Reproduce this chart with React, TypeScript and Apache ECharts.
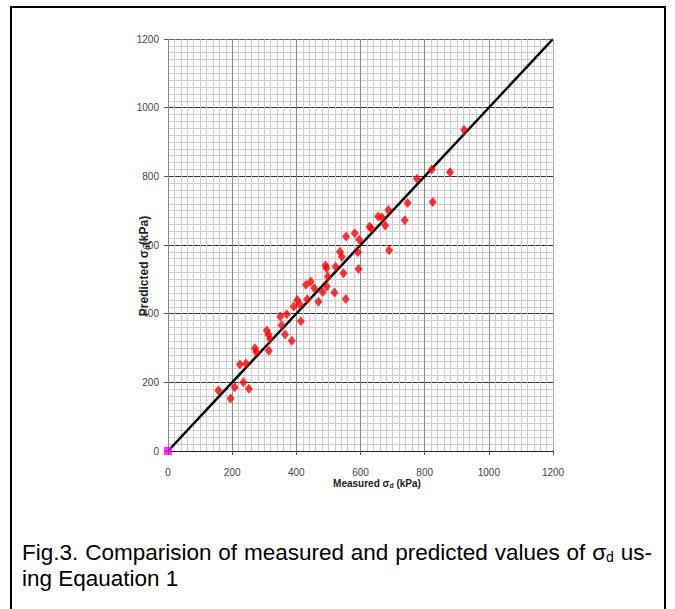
import React, { useEffect, useRef } from "react";
import * as echarts from "echarts";

const measured = [157, 195, 208, 224, 235, 243, 252, 271, 275, 314, 308, 313, 318, 354, 365, 386, 350, 370, 392, 403, 411, 414, 434, 430, 445, 456, 469, 482, 495, 498, 491, 494, 519, 522, 547, 554, 536, 542, 555, 582, 592, 596, 594, 628, 634, 655, 667, 677, 687, 689, 738, 747, 776, 822, 825, 879, 923];
const predicted = [176, 153, 186, 252, 200, 255, 181, 299, 288, 292, 351, 339, 327, 366, 339, 321, 392, 398, 421, 440, 427, 378, 442, 484, 493, 474, 435, 463, 479, 508, 540, 532, 462, 537, 518, 443, 580, 566, 625, 634, 579, 615, 530, 653, 648, 683, 680, 657, 702, 585, 672, 722, 793, 820, 725, 812, 935];
const lineX = [0, 1200];
const lineY = [0, 1200];
const originPoint = [[0, 0]];
const axisMin = 0;
const axisMax = 1200;
const axisInterval = 200;
const captionWords = ["Fig.3.", "Comparision", "of", "measured", "and", "predicted", "values", "of", "σ|d", "us-"];
const captionLine2 = "ing Eqauation 1";

const SANS = "'Liberation Sans', Arial, sans-serif";
const CAP_SIZE = 22.5;
const SUB_SIZE = 14;

export default function App() {
  const ref = useRef<HTMLDivElement>(null);
  useEffect(() => {
    if (!ref.current) return;
    const chart = echarts.init(ref.current, null, { renderer: "svg" });
    const tickFont = {
      color: "#444",
      fontFamily: "'Liberation Sans Narrow', 'Liberation Sans', Arial, sans-serif",
      fontSize: 10,
      formatter: (v: number) => String(v),
    };
    const scatterData = measured.map((x, i) => [x, predicted[i]]);
    const lineData = lineX.map((x, i) => [x, lineY[i]]);

    // justify caption line 1 between left and right edges
    const ctx = document.createElement("canvas").getContext("2d")!;
    const measure = (t: string, size: number) => {
      ctx.font = `${size}px 'Liberation Sans', Arial, sans-serif`;
      return ctx.measureText(t).width;
    };
    const capLeft = 22;
    const capRight = 652;
    const widths = captionWords.map((w) => {
      if (w.includes("|")) {
        const [a, b] = w.split("|");
        return measure(a, CAP_SIZE) + measure(b, SUB_SIZE);
      }
      return measure(w, CAP_SIZE);
    });
    const total = widths.reduce((s, v) => s + v, 0);
    const gap = Math.max(4, (capRight - capLeft - total) / (captionWords.length - 1));
    let cx = capLeft;
    const captionGraphics: any[] = captionWords.map((w, i) => {
      const x = cx;
      cx += widths[i] + gap;
      const isSub = w.includes("|");
      const [a, b] = isSub ? w.split("|") : [w, ""];
      return {
        type: "text",
        x,
        y: 552,
        z: 10,
        style: isSub
          ? {
              text: `{a|${a}}{s|${b}}`,
              align: "left",
              verticalAlign: "middle",
              rich: {
                a: { fontFamily: SANS, fontSize: CAP_SIZE, fill: "#000" },
                s: { fontFamily: SANS, fontSize: SUB_SIZE, fill: "#000", padding: [9, 0, 0, 0] },
              },
            }
          : { text: a, align: "left", verticalAlign: "middle", fontFamily: SANS, fontSize: CAP_SIZE, fill: "#000" },
      };
    });

    chart.setOption({
      animation: false,
      backgroundColor: "#fff",
      grid: { left: 168, top: 39, width: 385, height: 412, show: false },
      xAxis: {
        type: "value",
        min: axisMin,
        max: axisMax,
        interval: axisInterval,
        axisLine: { show: true, onZero: false, lineStyle: { color: "#222", width: 1 } },
        axisTick: { show: true, length: 4, lineStyle: { color: "#555" } },
        axisLabel: { ...tickFont, margin: 16 },
        splitLine: { show: true, lineStyle: { color: "#8a8a8a", width: 1 } },
        minorTick: { show: false, splitNumber: 10 },
        minorSplitLine: { show: true, lineStyle: { color: "#cdcdcd", width: 1 } },
      },
      yAxis: {
        type: "value",
        min: axisMin,
        max: axisMax,
        interval: axisInterval,
        axisLine: { show: true, onZero: false, lineStyle: { color: "#888", width: 1 } },
        axisTick: { show: true, length: 4, lineStyle: { color: "#555" } },
        axisLabel: { ...tickFont, margin: 9 },
        splitLine: { show: true, lineStyle: { color: "#333", width: 1 } },
        minorTick: { show: false, splitNumber: 10 },
        minorSplitLine: { show: true, lineStyle: { color: "#cdcdcd", width: 1 } },
      },
      series: [
        {
          type: "line",
          data: lineData,
          symbol: "none",
          lineStyle: { color: "#000", width: 2.5 },
          z: 3,
        },
        {
          type: "scatter",
          data: scatterData,
          symbol: "diamond",
          symbolSize: [8, 10],
          itemStyle: { color: "#ff0000" },
          z: 4,
        },
        {
          type: "scatter",
          data: originPoint,
          symbol: "rect",
          symbolSize: 8,
          itemStyle: { color: "#ff00ff" },
          z: 5,
        },
      ],
      graphic: [
        {
          type: "rect",
          shape: { x: 553, y: 39, width: 1, height: 412 },
          style: { fill: "#aaa" },
          z: 10,
        },
        {
          type: "rect",
          shape: { x: 168, y: 39, width: 385, height: 0.6 },
          style: { fill: "#999" },
          z: 10,
        },
        {
          type: "rect",
          shape: { x: 11, y: 7, width: 654, height: 640 },
          style: { fill: "none", stroke: "#000", lineWidth: 2 },
          z: 10,
        },
        {
          type: "text",
          x: 144,
          y: 266,
          rotation: Math.PI / 2,
          z: 10,
          style: {
            text: "{a|Predicted σ}{s|d}{a|(kPa)}",
            align: "center",
            verticalAlign: "middle",
            rich: {
              a: { fontFamily: SANS, fontWeight: "bold", fontSize: 12, fill: "#222" },
              s: { fontFamily: SANS, fontWeight: "bold", fontSize: 8, fill: "#222", padding: [6, 0, 0, 0] },
            },
          },
        },
        {
          type: "text",
          x: 377,
          y: 483,
          z: 10,
          style: {
            text: "{a|Measured σ}{s|d}{a| (kPa)}",
            align: "center",
            verticalAlign: "middle",
            rich: {
              a: { fontFamily: SANS, fontWeight: "bold", fontSize: 10, fill: "#222" },
              s: { fontFamily: SANS, fontWeight: "bold", fontSize: 7, fill: "#222", padding: [5, 0, 0, 0] },
            },
          },
        },
        ...captionGraphics,
        {
          type: "text",
          x: capLeft,
          y: 578,
          z: 10,
          style: {
            text: captionLine2,
            align: "left",
            verticalAlign: "middle",
            fontFamily: SANS,
            fontSize: CAP_SIZE,
            fill: "#000",
          },
        },
      ],
    });
    return () => chart.dispose();
  }, []);
  return (
    <div style={{ position: "absolute", left: 0, top: 0, width: 675, height: 609, background: "#fff" }}>
      <div ref={ref} style={{ width: 675, height: 609 }} />
    </div>
  );
}
